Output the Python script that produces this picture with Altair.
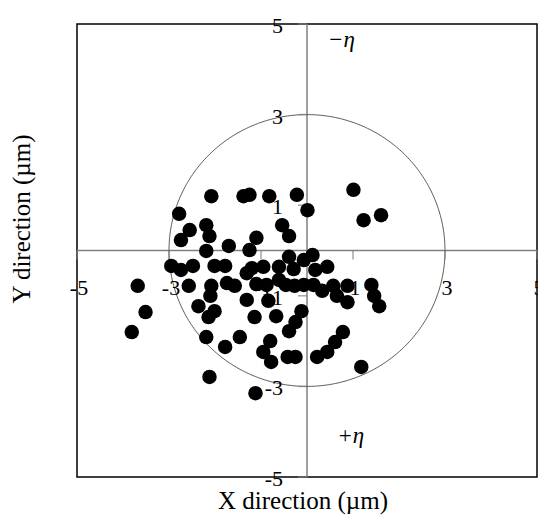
import altair as alt
import numpy as np
import pandas as pd

# Scatter data (µm)
xs = [-2.08, -1.38, -1.25, -0.82, -0.22, 0.01, 1.01, 1.23, 1.61,
      -2.78, -2.55, -2.19, -2.12, -2.74, -2.19, -1.70, -1.25, -1.10, -0.54, -0.39,
      -2.95, -2.74, -2.48, -2.01, -1.78, -1.31, -1.20, -0.95, -0.61, -0.39, -0.29, -0.07, 0.12, 0.18, 0.44,
      -3.68, -2.57, -2.08, -1.74, -1.57, -1.10, -0.88, -0.61, -0.27, -0.46, -0.07, 0.14, 0.33, 0.57, 0.65,
      0.88, 1.40, 1.46, 1.57, 0.88,
      -2.10, -2.36, -2.01, -2.14, -1.31, -0.84, -0.12, -0.25, -0.39, -0.67, -1.14,
      -3.51, -3.81, -2.19, -1.78, -1.46, -0.80, -0.95, -0.78, -0.42, -0.25, 0.22, 0.44, 0.61, 0.78, 1.18,
      -2.12, -1.12]
ys = [1.20, 1.20, 1.23, 1.20, 1.23, 0.89, 1.34, 0.67, 0.78,
      0.81, 0.45, 0.56, 0.32, 0.23, -0.01, 0.10, 0.01, 0.28, 0.56, 0.32,
      -0.34, -0.43, -0.34, -0.34, -0.34, -0.50, -0.39, -0.36, -0.36, -0.14, -0.41, -0.21, -0.10, -0.43, -0.36,
      -0.78, -0.78, -0.78, -0.72, -0.78, -0.74, -0.76, -0.65, -0.78, -0.76, -0.76, -0.76, -0.89, -0.78, -1.00,
      -0.78, -0.76, -1.00, -1.23, -1.14,
      -1.00, -1.23, -1.34, -1.47, -1.09, -1.11, -1.34, -1.58, -1.78, -1.45, -1.47,
      -1.36, -1.80, -1.91, -2.13, -1.91, -2.00, -2.24, -2.46, -2.35, -2.35, -2.35, -2.24, -2.02, -1.80, -2.57,
      -2.79, -3.15]

tick_values = [-5, -3, -1, 1, 3, 5]
tick_labels = ["-5", "-3", "-1", "1", "3", "5"]
circle_radius = 3
x_title = "X direction (\u00b5m)"
y_title = "Y direction (\u00b5m)"
ann_text = ["\u2212\u03b7", "+\u03b7"]
ann_x = [0.75, 0.95]
ann_y = [4.65, -4.1]

FONT = "Liberation Serif"
GRAY = "#808080"

pts = pd.DataFrame({"x": xs, "y": ys})
ticks = pd.DataFrame({"v": tick_values, "lab": tick_labels, "zero": [0] * len(tick_values)})
th = np.linspace(0, 2 * np.pi, 361)
circ = pd.DataFrame({"x": circle_radius * np.cos(th), "y": circle_radius * np.sin(th), "i": np.arange(361)})
axes_df = pd.DataFrame({"z": [0]})
ann = pd.DataFrame({"t": ann_text, "x": ann_x, "y": ann_y})

xs_ = alt.Scale(domain=[-5, 5], nice=False, zero=False)
ys_ = alt.Scale(domain=[-5, 5], nice=False, zero=False)

vline = alt.Chart(axes_df).mark_rule(color=GRAY, strokeWidth=1.5).encode(
    x=alt.X("z:Q", scale=xs_, axis=None))
hline = alt.Chart(axes_df).mark_rule(color=GRAY, strokeWidth=1.5).encode(
    y=alt.Y("z:Q", scale=ys_, axis=None))

circle = alt.Chart(circ).mark_line(color="#333333", strokeWidth=0.8).encode(
    x=alt.X("x:Q", scale=xs_, axis=None),
    y=alt.Y("y:Q", scale=ys_, axis=None),
    order="i:Q")

xticks = alt.Chart(ticks).mark_tick(color=GRAY, orient="vertical", size=9, thickness=1.5, yOffset=4.5).encode(
    x=alt.X("v:Q", scale=xs_, axis=None), y=alt.Y("zero:Q", scale=ys_, axis=None))
yticks = alt.Chart(ticks).mark_tick(color=GRAY, orient="horizontal", size=9, thickness=1.5, xOffset=-4.5).encode(
    x=alt.X("zero:Q", scale=xs_, axis=None), y=alt.Y("v:Q", scale=ys_, axis=None))

xlabels = alt.Chart(ticks).mark_text(font=FONT, fontSize=22, color="black", align="center",
                                     baseline="middle", dy=37, dx=2).encode(
    x=alt.X("v:Q", scale=xs_, axis=None), y=alt.Y("zero:Q", scale=ys_, axis=None), text="lab:N")
ylabels = alt.Chart(ticks).mark_text(font=FONT, fontSize=22, color="black", align="right",
                                     baseline="middle", dx=-24, dy=2).encode(
    x=alt.X("zero:Q", scale=xs_, axis=None), y=alt.Y("v:Q", scale=ys_, axis=None), text="lab:N")

points = alt.Chart(pts).mark_circle(size=210, color="black", opacity=1).encode(
    x=alt.X("x:Q", scale=xs_, axis=None), y=alt.Y("y:Q", scale=ys_, axis=None))

annot = alt.Chart(ann).mark_text(font=FONT, fontSize=23, fontStyle="italic", color="black",
                                 align="center", baseline="middle").encode(
    x=alt.X("x:Q", scale=xs_, axis=None), y=alt.Y("y:Q", scale=ys_, axis=None), text="t:N")

xt = alt.Chart(pd.DataFrame({"t": [x_title]})).mark_text(
    font=FONT, fontSize=25, color="black", align="center", baseline="middle").encode(
    x=alt.value(226), y=alt.value(477), text="t:N")
yt = alt.Chart(pd.DataFrame({"t": [y_title]})).mark_text(
    font=FONT, fontSize=25, color="black", align="center", baseline="middle", angle=270).encode(
    x=alt.value(-55), y=alt.value(195), text="t:N")

chart = alt.layer(vline, hline, circle, xticks, yticks, xlabels, ylabels, points, annot, xt, yt).properties(
    width=460, height=453,
    padding={"left": 69, "top": 16, "right": 1, "bottom": 39},
    autosize=alt.AutoSizeParams(type="none"),
).configure_view(stroke="black", strokeWidth=1.5)

chart.save("out.html", embed_options={"renderer": "svg", "actions": False})
